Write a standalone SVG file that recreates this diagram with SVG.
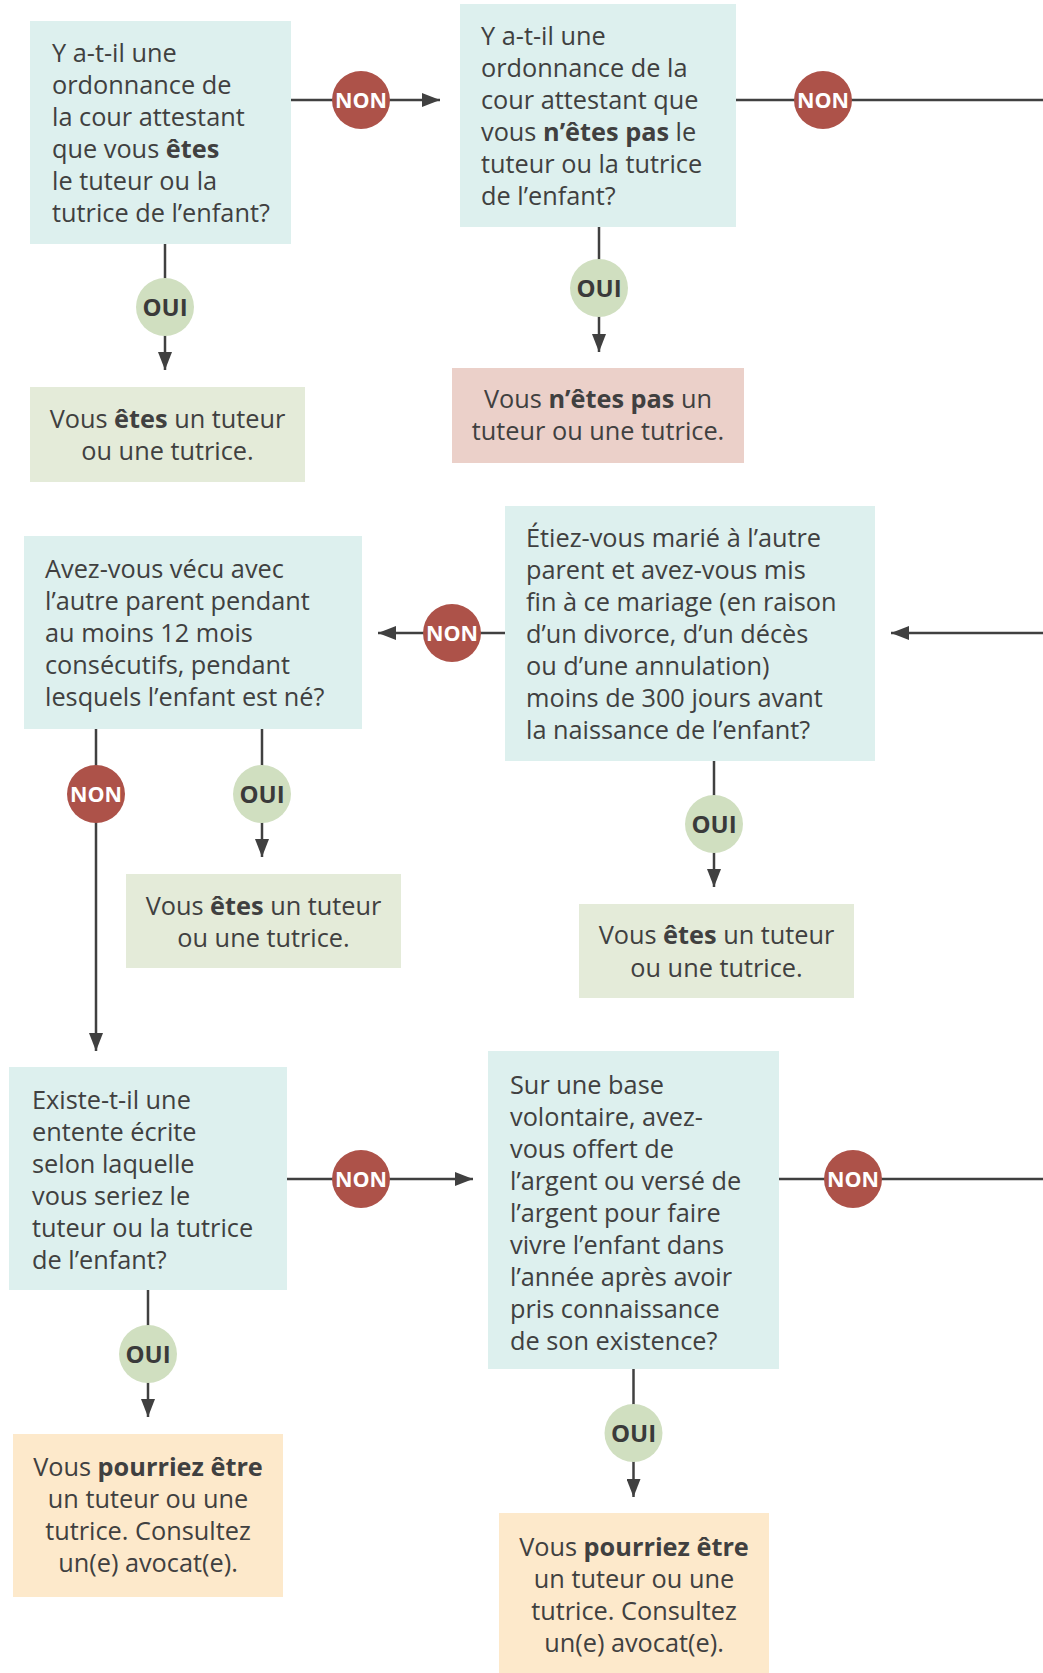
<svg xmlns="http://www.w3.org/2000/svg" width="1043" height="1673" viewBox="0 0 1043 1673">
<style>
  .q { fill: #ddf0ee; }
  .ok { fill: #e4ebd9; }
  .no { fill: #ebd0c9; }
  .maybe { fill: #fde9cb; }
  text { font-family: "Open Sans", "Noto Sans", sans-serif; font-size: 25.3px; fill: #404040; }
  .c { text-anchor: middle; }
  .b { font-weight: bold; }
  .edge { stroke: #404040; stroke-width: 2.5; fill: none; }
  .nonc { fill: #ad5249; }
  .ouic { fill: #d0dfc0; }
  .nont { font-size: 21.5px; font-weight: bold; fill: #ffffff; text-anchor: middle; }
  .ouit { font-size: 24px; font-weight: bold; fill: #3a3a3a; text-anchor: middle; }
</style>
<defs>
  <marker id="arr" markerUnits="userSpaceOnUse" markerWidth="18" markerHeight="14" refX="18" refY="7" orient="auto">
    <path d="M0,0 L18,7 L0,14 z" fill="#404040"/>
  </marker>
</defs>
<rect width="1043" height="1673" fill="#ffffff"/>

<g id="connectors">
  <line class="edge" x1="291" y1="100" x2="440" y2="100" marker-end="url(#arr)"/>
  <line class="edge" x1="165" y1="244" x2="165" y2="370" marker-end="url(#arr)"/>
  <line class="edge" x1="736" y1="100" x2="1043" y2="100"/>
  <line class="edge" x1="599" y1="227" x2="599" y2="352" marker-end="url(#arr)"/>
  <line class="edge" x1="1043" y1="633" x2="891" y2="633" marker-end="url(#arr)"/>
  <line class="edge" x1="505" y1="633" x2="378" y2="633" marker-end="url(#arr)"/>
  <line class="edge" x1="714" y1="761" x2="714" y2="887" marker-end="url(#arr)"/>
  <line class="edge" x1="96" y1="729" x2="96" y2="1051" marker-end="url(#arr)"/>
  <line class="edge" x1="262" y1="729" x2="262" y2="857" marker-end="url(#arr)"/>
  <line class="edge" x1="287" y1="1179" x2="473" y2="1179" marker-end="url(#arr)"/>
  <line class="edge" x1="148" y1="1290" x2="148" y2="1417" marker-end="url(#arr)"/>
  <line class="edge" x1="779" y1="1179" x2="1043" y2="1179"/>
  <line class="edge" x1="633.5" y1="1369" x2="633.5" y2="1497" marker-end="url(#arr)"/>

  <circle class="nonc" cx="361" cy="100" r="29"/><text class="nont" x="361" y="108">NON</text>
  <circle class="ouic" cx="165" cy="307" r="29"/><text class="ouit" x="165" y="316">OUI</text>
  <circle class="nonc" cx="823" cy="100" r="29"/><text class="nont" x="823" y="108">NON</text>
  <circle class="ouic" cx="599" cy="288" r="29"/><text class="ouit" x="599" y="297">OUI</text>
  <circle class="nonc" cx="452" cy="633" r="29"/><text class="nont" x="452" y="641">NON</text>
  <circle class="ouic" cx="714" cy="824" r="29"/><text class="ouit" x="714" y="833">OUI</text>
  <circle class="nonc" cx="96" cy="794" r="29"/><text class="nont" x="96" y="802">NON</text>
  <circle class="ouic" cx="262" cy="794" r="29"/><text class="ouit" x="262" y="803">OUI</text>
  <circle class="nonc" cx="361" cy="1179" r="29"/><text class="nont" x="361" y="1187">NON</text>
  <circle class="ouic" cx="148" cy="1354" r="29"/><text class="ouit" x="148" y="1363">OUI</text>
  <circle class="nonc" cx="853" cy="1179" r="29"/><text class="nont" x="853" y="1187">NON</text>
  <circle class="ouic" cx="633.5" cy="1433" r="29"/><text class="ouit" x="633.5" y="1442">OUI</text>
</g>

<g id="q1">
  <rect class="q" x="30" y="21" width="261" height="223"/>
  <text x="52" y="62">Y a-t-il une</text>
  <text x="52" y="94">ordonnance de</text>
  <text x="52" y="126">la cour attestant</text>
  <text x="52" y="158">que vous <tspan class="b">êtes</tspan></text>
  <text x="52" y="190">le tuteur ou la</text>
  <text x="52" y="222">tutrice de l’enfant?</text>
</g>

<g id="q2">
  <rect class="q" x="460" y="4" width="276" height="223"/>
  <text x="481" y="45">Y a-t-il une</text>
  <text x="481" y="77">ordonnance de la</text>
  <text x="481" y="109">cour attestant que</text>
  <text x="481" y="141">vous <tspan class="b">n’êtes pas</tspan> le</text>
  <text x="481" y="173">tuteur ou la tutrice</text>
  <text x="481" y="205">de l’enfant?</text>
</g>

<g id="r1">
  <rect class="ok" x="30" y="387" width="275" height="95"/>
  <text class="c" x="167.5" y="428">Vous <tspan class="b">êtes</tspan> un tuteur</text>
  <text class="c" x="167.5" y="460">ou une tutrice.</text>
</g>

<g id="r2">
  <rect class="no" x="452" y="368" width="292" height="95"/>
  <text class="c" x="598" y="408">Vous <tspan class="b">n’êtes pas</tspan> un</text>
  <text class="c" x="598" y="440">tuteur ou une tutrice.</text>
</g>

<g id="q3">
  <rect class="q" x="505" y="506" width="370" height="255"/>
  <text x="526" y="547">Étiez-vous marié à l’autre</text>
  <text x="526" y="579">parent et avez-vous mis</text>
  <text x="526" y="611">fin à ce mariage (en raison</text>
  <text x="526" y="643">d’un divorce, d’un décès</text>
  <text x="526" y="675">ou d’une annulation)</text>
  <text x="526" y="707">moins de 300 jours avant</text>
  <text x="526" y="739">la naissance de l’enfant?</text>
</g>

<g id="r3">
  <rect class="ok" x="579" y="904" width="275" height="94"/>
  <text class="c" x="716.5" y="944">Vous <tspan class="b">êtes</tspan> un tuteur</text>
  <text class="c" x="716.5" y="977">ou une tutrice.</text>
</g>

<g id="q4">
  <rect class="q" x="24" y="536" width="338" height="193"/>
  <text x="45" y="578">Avez-vous vécu avec</text>
  <text x="45" y="610">l’autre parent pendant</text>
  <text x="45" y="642">au moins 12 mois</text>
  <text x="45" y="674">consécutifs, pendant</text>
  <text x="45" y="706">lesquels l’enfant est né?</text>
</g>

<g id="r4">
  <rect class="ok" x="126" y="874" width="275" height="94"/>
  <text class="c" x="263.5" y="915">Vous <tspan class="b">êtes</tspan> un tuteur</text>
  <text class="c" x="263.5" y="947">ou une tutrice.</text>
</g>

<g id="q5">
  <rect class="q" x="9" y="1067" width="278" height="223"/>
  <text x="32" y="1109">Existe-t-il une</text>
  <text x="32" y="1141">entente écrite</text>
  <text x="32" y="1173">selon laquelle</text>
  <text x="32" y="1205">vous seriez le</text>
  <text x="32" y="1237">tuteur ou la tutrice</text>
  <text x="32" y="1269">de l’enfant?</text>
</g>

<g id="r5">
  <rect class="maybe" x="13" y="1434" width="270" height="163"/>
  <text class="c" x="148" y="1476">Vous <tspan class="b">pourriez être</tspan></text>
  <text class="c" x="148" y="1508">un tuteur ou une</text>
  <text class="c" x="148" y="1540">tutrice. Consultez</text>
  <text class="c" x="148" y="1572">un(e) avocat(e).</text>
</g>

<g id="q6">
  <rect class="q" x="488" y="1051" width="291" height="318"/>
  <text x="510" y="1094">Sur une base</text>
  <text x="510" y="1126">volontaire, avez-</text>
  <text x="510" y="1158">vous offert de</text>
  <text x="510" y="1190">l’argent ou versé de</text>
  <text x="510" y="1222">l’argent pour faire</text>
  <text x="510" y="1254">vivre l’enfant dans</text>
  <text x="510" y="1286">l’année après avoir</text>
  <text x="510" y="1318">pris connaissance</text>
  <text x="510" y="1350">de son existence?</text>
</g>

<g id="r6">
  <rect class="maybe" x="499" y="1513" width="270" height="160"/>
  <text class="c" x="634" y="1556">Vous <tspan class="b">pourriez être</tspan></text>
  <text class="c" x="634" y="1588">un tuteur ou une</text>
  <text class="c" x="634" y="1620">tutrice. Consultez</text>
  <text class="c" x="634" y="1652">un(e) avocat(e).</text>
</g>
</svg>
